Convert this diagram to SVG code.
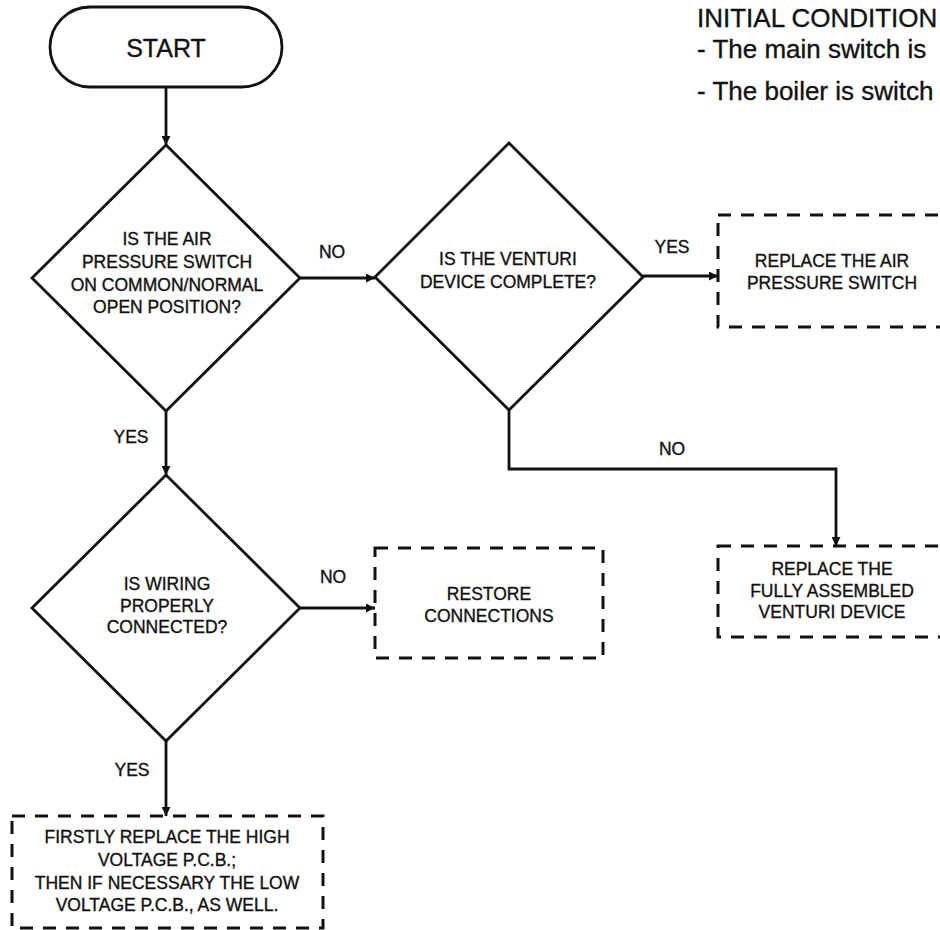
<svg xmlns="http://www.w3.org/2000/svg" width="940" height="930" viewBox="0 0 940 930">
  <style>
    text { font-family: "Liberation Sans", Arial, sans-serif; fill: #111; stroke: #111; stroke-width: 0.35; }
    .t { font-size: 17.5px; text-anchor: middle; }
    .big { font-size: 25px; text-anchor: middle; }
    .note { font-size: 26px; }
    .term, .dec { fill: #fff; stroke: #111; stroke-width: 2.8; }
    .act { fill: #fff; stroke: #111; stroke-width: 3; stroke-dasharray: 13 10; }
    .conn path { fill: none; stroke: #111; stroke-width: 2.8; }
  </style>
  <defs>
    <marker id="arrow" viewBox="0 0 10 10" refX="10" refY="5" markerWidth="9" markerHeight="9" markerUnits="userSpaceOnUse" orient="auto">
      <path d="M0,0 L10,5 L0,10 z" fill="#111"/>
    </marker>
  </defs>
  <rect width="940" height="930" fill="#fff"/>

  <!-- initial conditions note, running off the right edge -->
  <g id="initial-conditions">
    <text class="note" x="697" y="27">INITIAL CONDITION</text>
    <text class="note" x="697" y="58">- The main switch is</text>
    <text class="note" x="697" y="100">- The boiler is switch</text>
  </g>

  <!-- connectors -->
  <g class="conn" id="connectors">
    <path d="M166,88 V145" marker-end="url(#arrow)"/>
    <path d="M300,278 H375" marker-end="url(#arrow)"/>
    <path d="M643,276 H718" marker-end="url(#arrow)"/>
    <path d="M509,410 V469 H836 V546" marker-end="url(#arrow)"/>
    <path d="M166,411 V475" marker-end="url(#arrow)"/>
    <path d="M300,608 H375" marker-end="url(#arrow)"/>
    <path d="M166,741 V816" marker-end="url(#arrow)"/>
    <text class="t" x="332" y="258">NO</text>
    <text class="t" x="672" y="253">YES</text>
    <text class="t" x="672" y="455">NO</text>
    <text class="t" x="131" y="443">YES</text>
    <text class="t" x="333" y="583">NO</text>
    <text class="t" x="132" y="776">YES</text>
  </g>

  <g id="start">
    <rect class="term" x="50" y="7" width="232" height="80" rx="40"/>
    <text class="big" x="166" y="57">START</text>
  </g>

  <g id="air-pressure-switch">
    <polygon class="dec" points="166,145 300,278 166,411 32,278"/>
    <text class="t" x="167" y="245">IS THE AIR</text>
    <text class="t" x="167" y="268">PRESSURE SWITCH</text>
    <text class="t" x="167" y="291">ON COMMON/NORMAL</text>
    <text class="t" x="167" y="313">OPEN POSITION?</text>
  </g>

  <g id="venturi-complete">
    <polygon class="dec" points="509,143 643,277 509,410 375,277"/>
    <text class="t" x="508" y="265">IS THE VENTURI</text>
    <text class="t" x="508" y="288">DEVICE COMPLETE?</text>
  </g>

  <g id="replace-switch">
    <rect class="act" x="718" y="215" width="232" height="112"/>
    <text class="t" x="832" y="267">REPLACE THE AIR</text>
    <text class="t" x="832" y="289">PRESSURE SWITCH</text>
  </g>

  <g id="replace-venturi">
    <rect class="act" x="718" y="546" width="232" height="91"/>
    <text class="t" x="832" y="575">REPLACE THE</text>
    <text class="t" x="832" y="597">FULLY ASSEMBLED</text>
    <text class="t" x="832" y="618">VENTURI DEVICE</text>
  </g>

  <g id="wiring-connected">
    <polygon class="dec" points="166,475 300,608 166,741 32,608"/>
    <text class="t" x="167" y="590">IS WIRING</text>
    <text class="t" x="167" y="612">PROPERLY</text>
    <text class="t" x="167" y="633">CONNECTED?</text>
  </g>

  <g id="restore-connections">
    <rect class="act" x="375" y="548" width="228" height="110"/>
    <text class="t" x="489" y="600">RESTORE</text>
    <text class="t" x="489" y="622">CONNECTIONS</text>
  </g>

  <g id="replace-pcb">
    <rect class="act" x="12" y="816" width="311" height="112"/>
    <text class="t" x="167" y="843">FIRSTLY REPLACE THE HIGH</text>
    <text class="t" x="167" y="866">VOLTAGE P.C.B.;</text>
    <text class="t" x="167" y="889">THEN IF NECESSARY THE LOW</text>
    <text class="t" x="167" y="911">VOLTAGE P.C.B., AS WELL.</text>
  </g>
</svg>
